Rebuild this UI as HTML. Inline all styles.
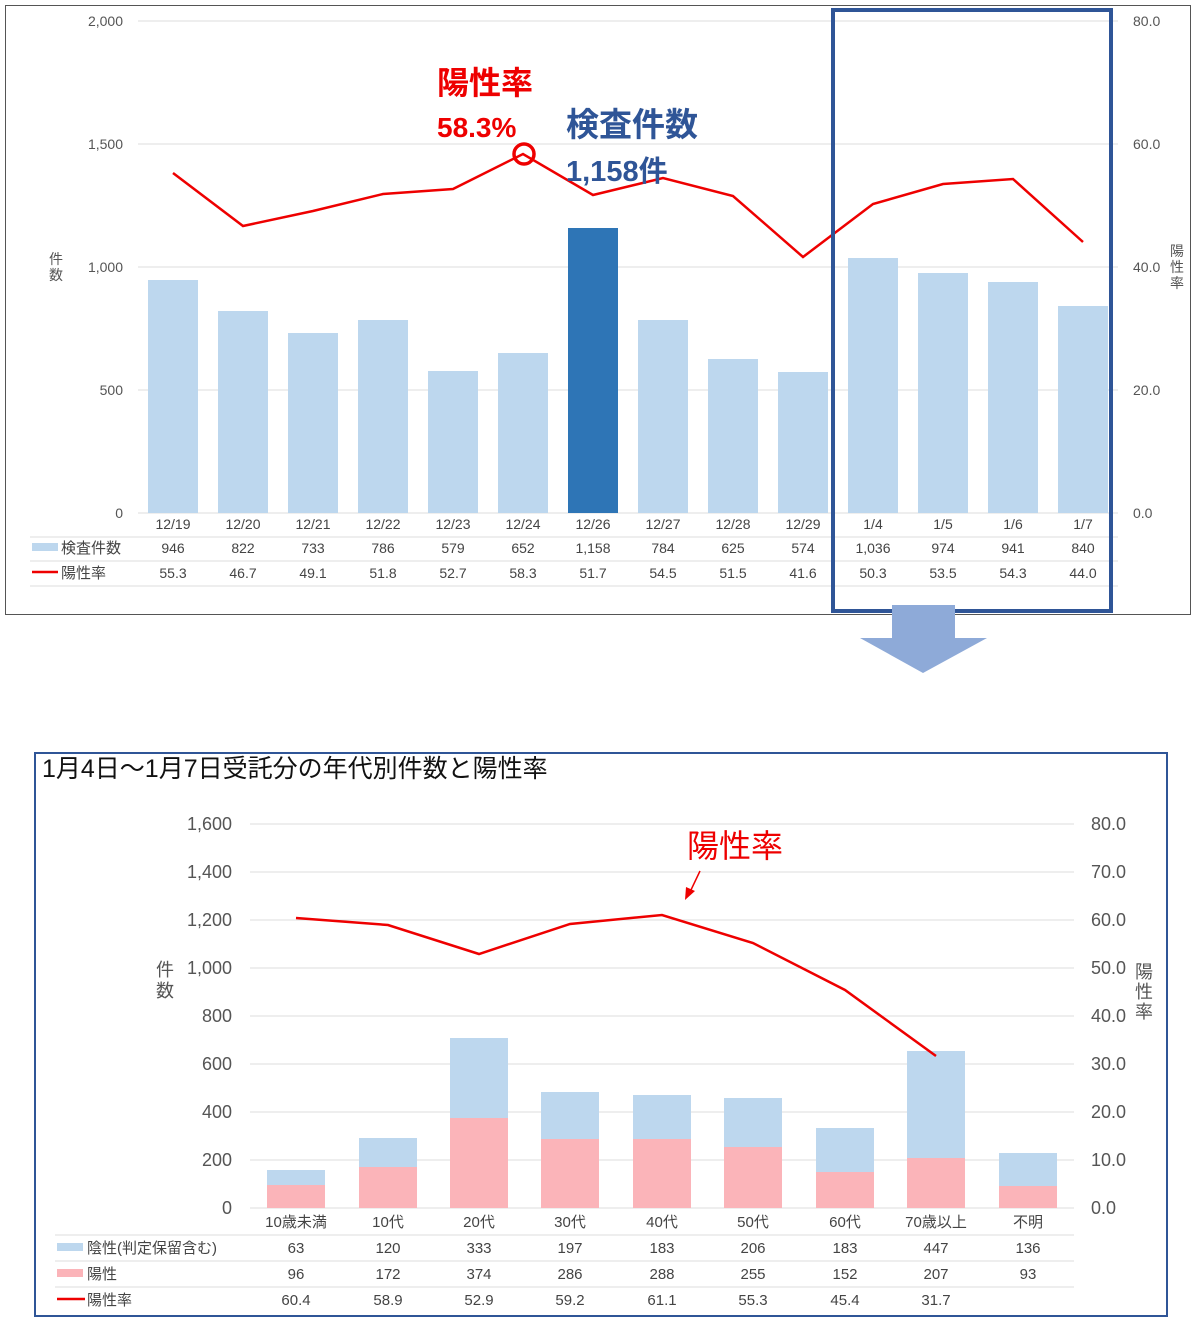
<!DOCTYPE html>
<html><head><meta charset="utf-8"><style>
body{margin:0;background:#fff;}
svg text{font-family:"Liberation Sans","Noto Sans CJK JP",sans-serif;}
</style></head><body>
<svg width="1203" height="1326" viewBox="0 0 1203 1326" xmlns="http://www.w3.org/2000/svg">
<rect x="0" y="0" width="1203" height="1326" fill="#fff"/>
<!-- top frame -->
<rect x="5.5" y="5.5" width="1185" height="609" fill="none" stroke="#555" stroke-width="1"/>
<g stroke="#ddd" stroke-width="1">
<line x1="138" y1="21" x2="1118" y2="21"/><line x1="138" y1="144" x2="1118" y2="144"/>
<line x1="138" y1="267" x2="1118" y2="267"/><line x1="138" y1="390" x2="1118" y2="390"/>
<line x1="138" y1="513" x2="1118" y2="513"/>
<line x1="30" y1="537" x2="1118" y2="537"/><line x1="30" y1="561" x2="1118" y2="561"/><line x1="30" y1="586" x2="1118" y2="586"/>
</g>
<g font-size="14" fill="#555" text-anchor="end">
<text x="123" y="26">2,000</text><text x="123" y="149">1,500</text><text x="123" y="272">1,000</text><text x="123" y="395">500</text><text x="123" y="518">0</text>
</g>
<g font-size="14" fill="#555">
<text x="1133" y="26">80.0</text><text x="1133" y="149">60.0</text><text x="1133" y="272">40.0</text><text x="1133" y="395">20.0</text><text x="1133" y="518">0.0</text>
</g>
<g font-size="14" fill="#555"><text x="49" y="264">件</text><text x="49" y="280">数</text>
<text x="1170" y="256">陽</text><text x="1170" y="272">性</text><text x="1170" y="288">率</text></g>
<g fill="#bdd7ee">
<rect x="148" y="280" width="50" height="233"/><rect x="218" y="311" width="50" height="202"/>
<rect x="288" y="333" width="50" height="180"/><rect x="358" y="320" width="50" height="193"/>
<rect x="428" y="371" width="50" height="142"/><rect x="498" y="353" width="50" height="160"/>
<rect x="568" y="228" width="50" height="285" fill="#2e75b6"/>
<rect x="638" y="320" width="50" height="193"/><rect x="708" y="359" width="50" height="154"/>
<rect x="778" y="372" width="50" height="141"/><rect x="848" y="258" width="50" height="255"/>
<rect x="918" y="273" width="50" height="240"/><rect x="988" y="282" width="50" height="231"/>
<rect x="1058" y="306" width="50" height="207"/>
</g>
<polyline fill="none" stroke="#e00" stroke-width="2.5" points="173,173 243,226 313,211 383,194 453,189 523,154 593,195 663,178 733,196 803,257 873,204 943,184 1013,179 1083,242"/>
<circle cx="524" cy="154" r="10" fill="none" stroke="#e00" stroke-width="3.5"/>
<g font-size="14" fill="#444" text-anchor="middle">
<text x="173" y="529">12/19</text><text x="243" y="529">12/20</text><text x="313" y="529">12/21</text><text x="383" y="529">12/22</text><text x="453" y="529">12/23</text><text x="523" y="529">12/24</text><text x="593" y="529">12/26</text><text x="663" y="529">12/27</text><text x="733" y="529">12/28</text><text x="803" y="529">12/29</text><text x="873" y="529">1/4</text><text x="943" y="529">1/5</text><text x="1013" y="529">1/6</text><text x="1083" y="529">1/7</text>
<text x="173" y="553">946</text><text x="243" y="553">822</text><text x="313" y="553">733</text><text x="383" y="553">786</text><text x="453" y="553">579</text><text x="523" y="553">652</text><text x="593" y="553">1,158</text><text x="663" y="553">784</text><text x="733" y="553">625</text><text x="803" y="553">574</text><text x="873" y="553">1,036</text><text x="943" y="553">974</text><text x="1013" y="553">941</text><text x="1083" y="553">840</text>
<text x="173" y="578">55.3</text><text x="243" y="578">46.7</text><text x="313" y="578">49.1</text><text x="383" y="578">51.8</text><text x="453" y="578">52.7</text><text x="523" y="578">58.3</text><text x="593" y="578">51.7</text><text x="663" y="578">54.5</text><text x="733" y="578">51.5</text><text x="803" y="578">41.6</text><text x="873" y="578">50.3</text><text x="943" y="578">53.5</text><text x="1013" y="578">54.3</text><text x="1083" y="578">44.0</text>
</g>
<rect x="32" y="543" width="26" height="8" fill="#bdd7ee"/>
<line x1="32" y1="572" x2="58" y2="572" stroke="#e00" stroke-width="2.5"/>
<g font-size="15" fill="#444"><text x="61" y="553">検査件数</text><text x="61" y="578">陽性率</text></g>
<g font-weight="bold">
<text x="437" y="94" font-size="32" fill="#e00">陽性率</text>
<text x="437" y="137" font-size="28" fill="#e00">58.3%</text>
<text x="566" y="136" font-size="33" fill="#2f5597">検査件数</text>
<text x="566" y="181" font-size="29" fill="#2f5597">1,158件</text>
</g>
<rect x="833" y="10" width="278" height="601" fill="none" stroke="#2f5597" stroke-width="4"/>
<polygon points="892,605 955,605 955,638 987,638 923,673 860,638 892,638" fill="#8eaad8"/>
<!-- bottom -->
<rect x="35" y="753" width="1132" height="563" fill="none" stroke="#2f5597" stroke-width="2"/>
<text x="42" y="777" font-size="25" fill="#111">1月4日～1月7日受託分の年代別件数と陽性率</text>
<g stroke="#ddd" stroke-width="1">
<line x1="250" y1="824" x2="1074" y2="824"/><line x1="250" y1="872" x2="1074" y2="872"/><line x1="250" y1="920" x2="1074" y2="920"/><line x1="250" y1="968" x2="1074" y2="968"/><line x1="250" y1="1016" x2="1074" y2="1016"/><line x1="250" y1="1064" x2="1074" y2="1064"/><line x1="250" y1="1112" x2="1074" y2="1112"/><line x1="250" y1="1160" x2="1074" y2="1160"/><line x1="250" y1="1208" x2="1074" y2="1208"/>
<line x1="55" y1="1235" x2="1074" y2="1235"/><line x1="55" y1="1261" x2="1074" y2="1261"/><line x1="55" y1="1287" x2="1074" y2="1287"/>
</g>
<g font-size="18" fill="#555" text-anchor="end">
<text x="232" y="830">1,600</text><text x="232" y="878">1,400</text><text x="232" y="926">1,200</text><text x="232" y="974">1,000</text><text x="232" y="1022">800</text><text x="232" y="1070">600</text><text x="232" y="1118">400</text><text x="232" y="1166">200</text><text x="232" y="1214">0</text>
</g>
<g font-size="18" fill="#555">
<text x="1091" y="830">80.0</text><text x="1091" y="878">70.0</text><text x="1091" y="926">60.0</text><text x="1091" y="974">50.0</text><text x="1091" y="1022">40.0</text><text x="1091" y="1070">30.0</text><text x="1091" y="1118">20.0</text><text x="1091" y="1166">10.0</text><text x="1091" y="1214">0.0</text>
<text x="156" y="976">件</text><text x="156" y="997">数</text>
<text x="1135" y="978">陽</text><text x="1135" y="998">性</text><text x="1135" y="1018">率</text>
</g>
<g fill="#fbb4b9">
<rect x="267" y="1185" width="58" height="23"/><rect x="359" y="1167" width="58" height="41"/><rect x="450" y="1118" width="58" height="90"/><rect x="541" y="1139" width="58" height="69"/><rect x="633" y="1139" width="58" height="69"/><rect x="724" y="1147" width="58" height="61"/><rect x="816" y="1172" width="58" height="36"/><rect x="907" y="1158" width="58" height="50"/><rect x="999" y="1186" width="58" height="22"/>
</g>
<g fill="#bdd7ee">
<rect x="267" y="1170" width="58" height="15"/><rect x="359" y="1138" width="58" height="29"/><rect x="450" y="1038" width="58" height="80"/><rect x="541" y="1092" width="58" height="47"/><rect x="633" y="1095" width="58" height="44"/><rect x="724" y="1098" width="58" height="49"/><rect x="816" y="1128" width="58" height="44"/><rect x="907" y="1051" width="58" height="107"/><rect x="999" y="1153" width="58" height="33"/>
</g>
<polyline fill="none" stroke="#e00" stroke-width="2.5" points="296,918 388,925 479,954 570,924 662,915 753,943 845,990 936,1056"/>
<g font-size="15" fill="#444" text-anchor="middle">
<text x="296" y="1227">10歳未満</text><text x="388" y="1227">10代</text><text x="479" y="1227">20代</text><text x="570" y="1227">30代</text><text x="662" y="1227">40代</text><text x="753" y="1227">50代</text><text x="845" y="1227">60代</text><text x="936" y="1227">70歳以上</text><text x="1028" y="1227">不明</text>
<text x="296" y="1253">63</text><text x="388" y="1253">120</text><text x="479" y="1253">333</text><text x="570" y="1253">197</text><text x="662" y="1253">183</text><text x="753" y="1253">206</text><text x="845" y="1253">183</text><text x="936" y="1253">447</text><text x="1028" y="1253">136</text>
<text x="296" y="1279">96</text><text x="388" y="1279">172</text><text x="479" y="1279">374</text><text x="570" y="1279">286</text><text x="662" y="1279">288</text><text x="753" y="1279">255</text><text x="845" y="1279">152</text><text x="936" y="1279">207</text><text x="1028" y="1279">93</text>
<text x="296" y="1305">60.4</text><text x="388" y="1305">58.9</text><text x="479" y="1305">52.9</text><text x="570" y="1305">59.2</text><text x="662" y="1305">61.1</text><text x="753" y="1305">55.3</text><text x="845" y="1305">45.4</text><text x="936" y="1305">31.7</text>
</g>
<rect x="57" y="1243" width="26" height="8" fill="#bdd7ee"/>
<rect x="57" y="1269" width="26" height="8" fill="#fbb4b9"/>
<line x1="57" y1="1299" x2="85" y2="1299" stroke="#e00" stroke-width="2.5"/>
<g font-size="15" fill="#444"><text x="87" y="1253">陰性(判定保留含む)</text><text x="87" y="1279">陽性</text><text x="87" y="1305">陽性率</text></g>
<text x="687" y="857" font-size="32" fill="#e00">陽性率</text>
<line x1="700" y1="871" x2="690" y2="892" stroke="#e00" stroke-width="1.5"/>
<polygon points="685,900 686,887 695,891" fill="#e00"/>
</svg>
</body></html>
